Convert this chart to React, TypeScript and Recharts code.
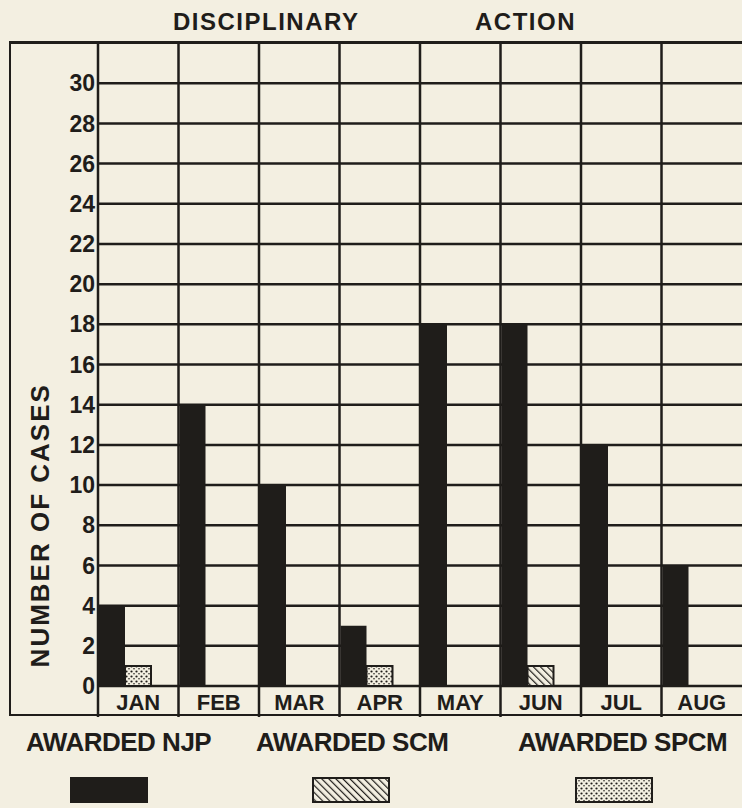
import { BarChart, Bar, XAxis, YAxis, CartesianGrid } from "recharts"

const months = ["JAN", "FEB", "MAR", "APR", "MAY", "JUN", "JUL", "AUG"]
const awardedNjp = [4, 14, 10, 3, 18, 18, 12, 6]
const awardedScm = [0, 0, 0, 0, 0, 1, 0, 0]
const awardedSpcm = [1, 0, 0, 1, 0, 0, 0, 0]
const yTicks = [0, 2, 4, 6, 8, 10, 12, 14, 16, 18, 20, 22, 24, 26, 28, 30]

const W = 742
const H = 717
const LEFT = 10
const Y_AXIS_W = 88
const TOP = 43
const X_AXIS_H = 31
const CELL_W = (W - LEFT - Y_AXIS_W) / months.length

const INK = "#1f1d1a"
const PAPER = "#f3efe1"
const FONT = "'Liberation Sans', Arial, sans-serif"

const data = months.map((m, i) => ({
  month: m,
  njp: awardedNjp[i],
  scm: awardedScm[i],
  spcm: awardedSpcm[i],
}))

function MonthTick(props: any) {
  const { x, y, payload } = props
  const left = x - CELL_W / 2
  return (
    <g>
      <line x1={left} y1={y} x2={left} y2={y + X_AXIS_H} stroke={INK} strokeWidth={2.5} />
      <text x={x} y={y + 24} textAnchor="middle" fontSize={22} fontWeight={700} fill={INK} fontFamily={FONT}>
        {payload.value}
      </text>
    </g>
  )
}

function CasesLabel(props: any) {
  const vb = props.viewBox
  const cx = vb.x + 30
  const cy = vb.y + vb.height * 0.75
  return (
    <text
      x={cx}
      y={cy}
      transform={`rotate(-90 ${cx} ${cy})`}
      textAnchor="middle"
      dominantBaseline="central"
      fontSize={26}
      fontWeight={700}
      letterSpacing={2}
      fill={INK}
      fontFamily={FONT}
    >
      NUMBER OF CASES
    </text>
  )
}

function Patterns() {
  return (
    <defs>
      <pattern id="hatch" width="5" height="5" patternUnits="userSpaceOnUse" patternTransform="rotate(-45)">
        <rect width="5" height="5" fill={PAPER} />
        <line x1="0" y1="0" x2="0" y2="5" stroke={INK} strokeWidth="2.4" />
      </pattern>
      <pattern id="dots" width="5" height="5" patternUnits="userSpaceOnUse">
        <rect width="5" height="5" fill={PAPER} />
        <circle cx="1.5" cy="1.5" r="1.1" fill={INK} />
        <circle cx="4" cy="3.8" r="0.8" fill={INK} />
      </pattern>
    </defs>
  )
}

const legendItems = [
  { label: "AWARDED NJP", fill: INK, x: 26, sx: 70 },
  { label: "AWARDED SCM", fill: "url(#hatch)", x: 256, sx: 312 },
  { label: "AWARDED SPCM", fill: "url(#dots)", x: 518, sx: 575 },
]

export default function App() {
  return (
    <div
      style={{
        position: "absolute",
        left: 0,
        top: 0,
        width: W,
        height: 808,
        background: PAPER,
        fontFamily: FONT,
        color: INK,
        overflow: "hidden",
      }}
    >
      <div style={{ position: "absolute", top: 8, left: 173, fontSize: 24, fontWeight: 700, letterSpacing: 1.5 }}>
        DISCIPLINARY
      </div>
      <div style={{ position: "absolute", top: 8, left: 475, fontSize: 24, fontWeight: 700, letterSpacing: 1.5 }}>
        ACTION
      </div>

      <BarChart
        width={W}
        height={H}
        data={data}
        margin={{ top: TOP, right: 0, left: LEFT, bottom: 0 }}
        barCategoryGap={1}
        barGap={0}
      >
        <Patterns />
        <CartesianGrid
          stroke={INK}
          strokeWidth={2.5}
          horizontalValues={yTicks}
          verticalCoordinatesGenerator={({ offset }: any) =>
            months.map((_, i) => offset.left + (i * offset.width) / months.length)
          }
        />
        <XAxis
          dataKey="month"
          height={X_AXIS_H}
          axisLine={false}
          tickLine={false}
          tickSize={0}
          tickMargin={0}
          interval={0}
          tick={<MonthTick />}
        />
        <YAxis
          width={Y_AXIS_W}
          domain={[0, 32]}
          ticks={yTicks}
          interval={0}
          axisLine={false}
          tickLine={false}
          tickSize={0}
          tickMargin={3}
          tick={{ fontSize: 23, fontWeight: 700, fill: INK, fontFamily: FONT }}
          label={<CasesLabel />}
        />
        <Bar dataKey="njp" name="AWARDED NJP" stackId="a" fill={INK} isAnimationActive={false} />
        <Bar dataKey="scm" name="AWARDED SCM" stackId="b" fill="url(#hatch)" stroke={INK} strokeWidth={2} isAnimationActive={false} />
        <Bar dataKey="spcm" name="AWARDED SPCM" stackId="b" fill="url(#dots)" stroke={INK} strokeWidth={2} isAnimationActive={false} />
        <Bar dataKey={() => 0} stackId="c" fill="none" legendType="none" isAnimationActive={false} />
      </BarChart>

      {/* frame round the whole chart */}
      <div
        style={{
          position: "absolute",
          left: LEFT - 1,
          top: TOP - 2,
          width: W,
          height: H - TOP + 1,
          borderLeft: `2.5px solid ${INK}`,
          borderTop: `3.5px solid ${INK}`,
          borderBottom: `2.5px solid ${INK}`,
          boxSizing: "border-box",
          pointerEvents: "none",
        }}
      />

      {legendItems.map((it) => (
        <div key={it.label}>
          <div
            style={{
              position: "absolute",
              left: it.x,
              top: 727,
              fontSize: 26,
              fontWeight: 700,
              letterSpacing: -0.5,
              whiteSpace: "nowrap",
            }}
          >
            {it.label}
          </div>
          <svg style={{ position: "absolute", left: it.sx, top: 777 }} width={78} height={26}>
            <rect x={1} y={1} width={76} height={24} fill={it.fill} stroke={INK} strokeWidth={2} />
          </svg>
        </div>
      ))}
    </div>
  )
}
